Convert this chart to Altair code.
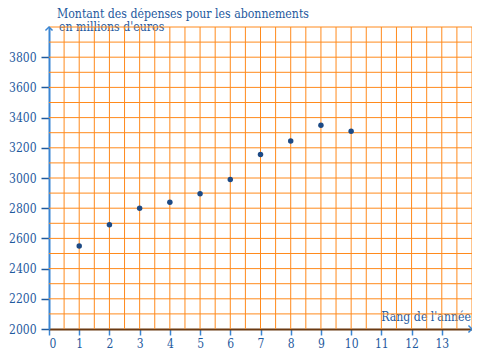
import altair as alt
import pandas as pd

rang = [1, 2, 3, 4, 5, 6, 7, 8, 9, 10]
montant = [2550, 2690, 2800, 2840, 2895, 2990, 3155, 3245, 3350, 3310]

x_ticks = list(range(0, 14))
y_ticks = list(range(2000, 3801, 200))
grid_x = [v / 2 for v in range(1, 29)]
grid_y = list(range(2100, 4001, 100))

BLUE = "#1f5a9e"
AXIS_BLUE = "#3a86d4"
ORANGE = "#ff8a1c"
FONT = "DejaVu Serif Condensed"

df = pd.DataFrame({"x": rang, "y": montant})
xs = alt.Scale(domain=[0, 14], nice=False, zero=False)
ys = alt.Scale(domain=[2000, 4000], nice=False, zero=False)

x_axis = alt.Axis(values=x_ticks, title=None, grid=False,
    domain=True, domainColor="#6b3a12", domainWidth=2, tickColor=AXIS_BLUE,
    tickSize=6, tickWidth=1.5, labelColor=BLUE, labelFont=FONT, labelFontSize=12,
    labelFontWeight=500, labelPadding=3, format="d")
y_axis = alt.Axis(values=y_ticks, title=None, grid=False,
    domain=True, domainColor=AXIS_BLUE, domainWidth=2, tickColor=BLUE,
    tickSize=8, tickWidth=1.5, labelColor=BLUE, labelFont=FONT, labelFontSize=12,
    labelFontWeight=500, labelPadding=5, format="d")

gx = alt.Chart(pd.DataFrame({"x": grid_x})).mark_rule(color=ORANGE, strokeWidth=1).encode(
    x=alt.X("x:Q", scale=xs, axis=x_axis))
gy = alt.Chart(pd.DataFrame({"y": grid_y})).mark_rule(color=ORANGE, strokeWidth=1).encode(
    y=alt.Y("y:Q", scale=ys, axis=y_axis))

pts = alt.Chart(df).mark_circle(size=30, color="#1d4a85", opacity=1).encode(
    x=alt.X("x:Q", scale=xs, axis=x_axis),
    y=alt.Y("y:Q", scale=ys, axis=y_axis),
)

arrows = pd.DataFrame({"x": [0, 14], "y": [4000, 2000], "a": [0, 90]})
arr = alt.Chart(arrows).mark_point(shape="M-1,1L0,0L1,1", size=50, filled=False,
    strokeWidth=1.5, color=AXIS_BLUE, opacity=1).encode(
    x=alt.X("x:Q", scale=xs, axis=x_axis), y=alt.Y("y:Q", scale=ys, axis=y_axis),
    angle=alt.Angle("a:Q", scale=None))

tstyle = dict(baseline="alphabetic", font=FONT, fontSize=12.2, color=BLUE)
t1 = alt.Chart(pd.DataFrame({"t": ["Montant des dépenses pour les abonnements"]})).mark_text(
    align="left", **tstyle).encode(text="t:N", x=alt.value(8), y=alt.value(-9))
t2 = alt.Chart(pd.DataFrame({"t": ["en millions d'euros"]})).mark_text(
    align="left", **tstyle).encode(text="t:N", x=alt.value(10), y=alt.value(4))
t3 = alt.Chart(pd.DataFrame({"t": ["Rang de l'année"]})).mark_text(
    align="right", **tstyle).encode(text="t:N", x=alt.value(422), y=alt.value(294))

chart = alt.layer(t2, t3, gx, gy, pts, arr, t1).properties(
    width=423, height=302,
    autosize=alt.AutoSizeParams(type="none"),
    padding={"left": 41, "top": 19, "right": 0, "bottom": 21},
).configure_view(stroke=None)

chart.save("out.html", embed_options={"renderer": "svg", "actions": False})
